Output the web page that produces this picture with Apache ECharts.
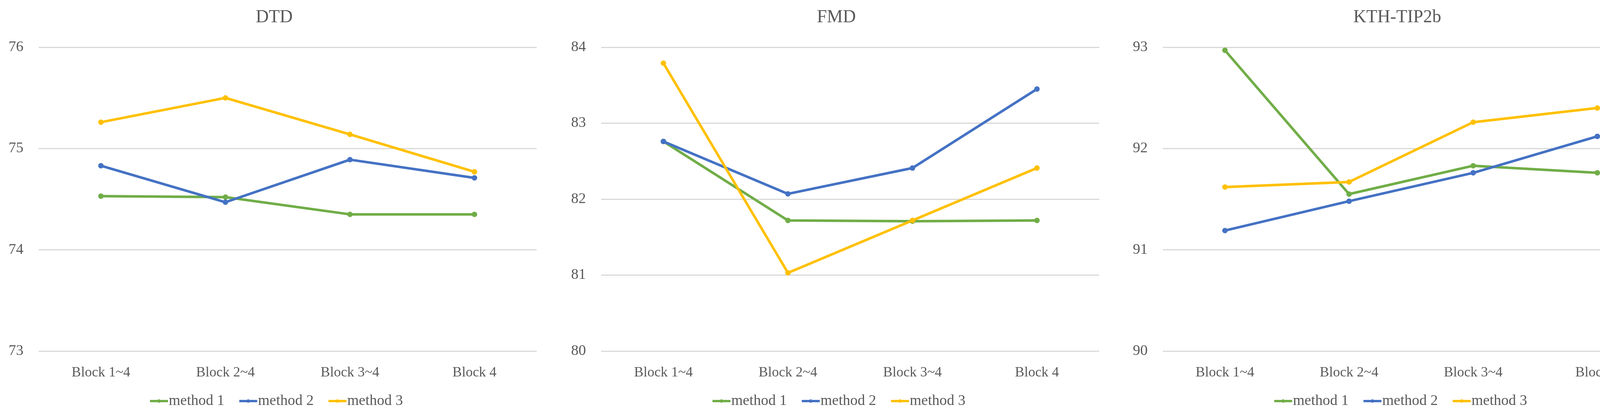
<!DOCTYPE html>
<html><head><meta charset="utf-8">
<script src="https://cdn.jsdelivr.net/npm/echarts@6/dist/echarts.min.js"></script>
<style>html,body{margin:0;padding:0;background:#fff}#c{width:4262px;height:1055px}</style>
</head><body><div id="c"></div>
<script>
const categories = ['Block 1~4', 'Block 2~4', 'Block 3~4', 'Block 4'];
const seriesNames = ['method 1', 'method 2', 'method 3'];
const panelTitles = ['DTD', 'FMD', 'KTH-TIP2b'];
const dtdMethod1 = [74.53, 74.52, 74.35, 74.35];
const dtdMethod2 = [74.83, 74.47, 74.89, 74.71];
const dtdMethod3 = [75.26, 75.50, 75.14, 74.77];
const fmdMethod1 = [82.76, 81.72, 81.71, 81.72];
const fmdMethod2 = [82.76, 82.07, 82.41, 83.45];
const fmdMethod3 = [83.79, 81.03, 81.72, 82.41];
const kthMethod1 = [92.97, 91.55, 91.83, 91.76];
const kthMethod2 = [91.19, 91.48, 91.76, 92.12];
const kthMethod3 = [91.62, 91.67, 92.26, 92.40];
const yMins = [73, 80, 90];
const yMaxs = [76, 84, 93];
const panelData = [
  [dtdMethod1, dtdMethod2, dtdMethod3],
  [fmdMethod1, fmdMethod2, fmdMethod3],
  [kthMethod1, kthMethod2, kthMethod3]
];
const colors = ['#70AD47', '#4472C4', '#FFC000'];
const font = '"Liberation Serif", "DejaVu Serif", serif';
const textColor = '#595959';

const gridBoxes = [
  {left: 99, right: 1374},
  {left: 1539, right: 2814},
  {left: 2977, right: 4248}
];
const titleCenters = [702, 2141, 3577];
const legendLefts = [376, 1816, 3254];

const option = {
  backgroundColor: '#fff',
  animation: false,
  color: colors,
  title: panelTitles.map((t, i) => ({
    text: t, left: titleCenters[i], top: 22, textAlign: 'center', padding: 0,
    textStyle: {fontFamily: font, fontSize: 46, fontWeight: 'normal', color: textColor}
  })),
  legend: panelTitles.map((t, i) => ({
    data: seriesNames, left: legendLefts[i], top: 1003, itemWidth: 46, itemHeight: 11, itemGap: 35,
    lineStyle: {width: 6},
    textStyle: {fontFamily: font, fontSize: 38, color: textColor, padding: [0, 0, 0, -3]}
  })),
  grid: gridBoxes.map(g => ({left: g.left, width: g.right - g.left, top: 121, height: 778, containLabel: false})),
  xAxis: panelTitles.map((t, i) => ({
    type: 'category', gridIndex: i, data: categories, boundaryGap: true,
    axisLine: {show: false}, axisTick: {show: false},
    axisLabel: {fontFamily: font, fontSize: 36, color: textColor, margin: 38}
  })),
  yAxis: panelTitles.map((t, i) => ({
    type: 'value', gridIndex: i, min: yMins[i], max: yMaxs[i], interval: 1,
    axisLine: {show: false}, axisTick: {show: false},
    axisLabel: {fontFamily: font, fontSize: 38, color: textColor, margin: 39},
    splitLine: {lineStyle: {color: '#D9D9D9', width: 3}}
  })),
  series: []
};
panelData.forEach((arrs, i) => {
  arrs.forEach((d, j) => {
    option.series.push({
      name: seriesNames[j], type: 'line', xAxisIndex: i, yAxisIndex: i, data: d,
      symbol: 'circle', symbolSize: 14,
      lineStyle: {width: 6.5, color: colors[j]}, itemStyle: {color: colors[j]}
    });
  });
});
const chart = echarts.init(document.getElementById('c'));
chart.setOption(option);
</script></body></html>
